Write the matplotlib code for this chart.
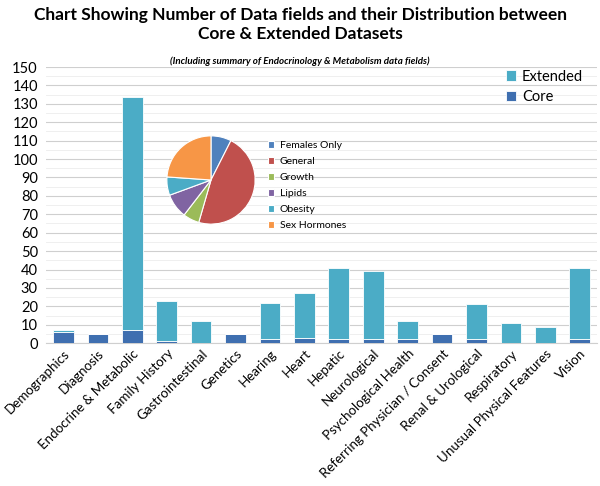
import numpy as np
import matplotlib
matplotlib.use("Agg")
import matplotlib.pyplot as plt

plt.rcParams['font.family'] = ['Lato', 'DejaVu Sans']

categories = ["Demographics", "Diagnosis", "Endocrine & Metabolic", "Family History",
              "Gastrointestinal", "Genetics", "Hearing", "Heart", "Hepatic",
              "Neurological", "Psychological Health", "Referring Physician / Consent",
              "Renal & Urological", "Respiratory", "Unusual Physical Features", "Vision"]
core = [6, 5, 7, 1, 0, 5, 2, 3, 2, 2, 2, 5, 2, 0, 0, 2]
extended = [1, 0, 127, 22, 12, 0, 20, 24, 39, 37, 10, 0, 19, 11, 9, 39]

pie_labels = ["Females Only", "General", "Growth", "Lipids", "Obesity", "Sex Hormones"]
pie_values = [10, 63, 8, 12, 9, 32]
pie_colors = ["#4f81bd", "#c0504d", "#9bbb59", "#8064a2", "#4bacc6", "#f79646"]

core_col = "#3f6fb0"
ext_col = "#4bacc6"

fig = plt.figure(figsize=(6, 4.86), dpi=100)
ax = fig.add_axes([0.077, 0.294, 0.918, 0.568])

x = np.arange(len(categories))
ax.bar(x, core, width=0.6, color=core_col, edgecolor="white", linewidth=0.6, label="Core", zorder=3)
ax.bar(x, extended, width=0.6, bottom=core, color=ext_col, edgecolor="white", linewidth=0.6,
       label="Extended", zorder=3)

ax.set_xlim(-0.5, len(categories) - 0.5)
ax.set_ylim(0, 150)
ax.set_yticks(np.arange(0, 151, 10))
ax.set_yticks(np.arange(0, 151, 5), minor=True)
ax.grid(axis="y", which="major", color="#cfcfcf", linewidth=0.8, zorder=0)
ax.grid(axis="y", which="minor", color="#ececec", linewidth=0.6, zorder=0)
ax.tick_params(axis="y", which="both", length=0, labelsize=10.5, pad=6)
ax.tick_params(axis="x", length=0, labelsize=9.6, pad=3)
ax.set_xticks(x)
ax.set_xticklabels(categories, rotation=45, ha="right", rotation_mode="anchor")
for s in ["top", "right", "left"]:
    ax.spines[s].set_visible(False)
ax.spines["bottom"].set_color("#cfcfcf")

h, l = ax.get_legend_handles_labels()
ax.legend(h[::-1], l[::-1], loc="upper right", bbox_to_anchor=(0.985, 1.012), frameon=False,
          borderaxespad=0, fontsize=10.5, handlelength=0.7, handleheight=0.7,
          handletextpad=0.4, labelspacing=0.45)

fig.text(0.5, 0.985, "Chart Showing Number of Data fields and their Distribution between\nCore & Extended Datasets",
         ha="center", va="top", fontsize=12.5, fontweight="bold", linespacing=1.2)
fig.text(0.5, 1 - 61 / 486, "(Including summary of Endocrinology & Metabolism data fields)",
         ha="center", va="center", fontsize=7, fontweight="bold", style="italic")

pax = fig.add_axes([166 / 600, 1 - 225 / 486, 90 / 600, 90 / 486])
wedges, _ = pax.pie(pie_values, colors=pie_colors, startangle=90, counterclock=False,
                    wedgeprops=dict(edgecolor="white", linewidth=0.8))
pax.set_xlim(-1.02, 1.02)
pax.set_ylim(-1.02, 1.02)
pax.set_aspect("equal")

fig.legend(wedges, pie_labels, loc="upper left", bbox_to_anchor=(0.447, 1 - 141 / 486),
           frameon=False, borderaxespad=0, borderpad=0, fontsize=7.5, handlelength=0.6,
           handleheight=0.6, handletextpad=0.5, labelspacing=0.68)

fig.savefig("out.png", dpi=100)
